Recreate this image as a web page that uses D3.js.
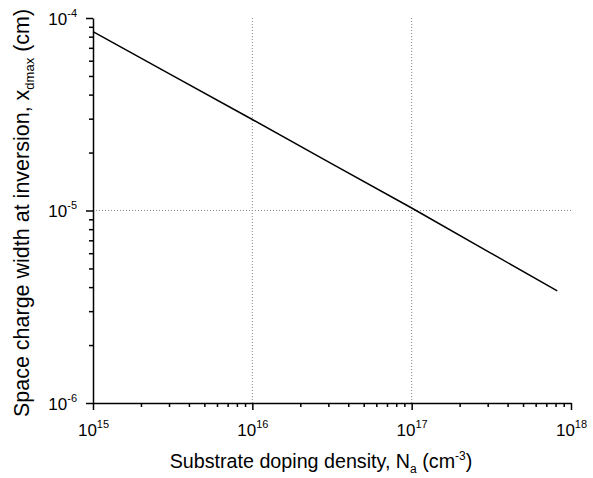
<!DOCTYPE html>
<html>
<head>
<meta charset="utf-8">
<script src="https://cdn.jsdelivr.net/npm/d3@7"></script>
<style>
  html, body { margin: 0; padding: 0; background: #fff; }
  svg { display: block; font-family: "Liberation Sans", Arial, sans-serif; }
</style>
</head>
<body>
<svg id="chart" width="593" height="478"></svg>
<script>
// Depletion width at the onset of strong inversion vs. substrate doping
const dopingNa = [1e15, 3e15, 1e16, 3e16, 1e17, 3e17, 8.2e17];               // cm^-3
const widthXd  = [8.5e-5, 5.14e-5, 2.97e-5, 1.79e-5, 1.03e-5, 6.14e-6, 3.82e-6]; // cm

const xDecades = [1e15, 1e16, 1e17, 1e18];
const xDecadeExp = ["15", "16", "17", "18"];
const yDecades = [1e-6, 1e-5, 1e-4];
const yDecadeExp = ["-6", "-5", "-4"];
const xGrid = [1e16, 1e17];
const yGrid = [1e-5];

const svg = d3.select("#chart");
const plotL = 93, plotR = 571, plotT = 18, plotB = 403;

const x = d3.scaleLog().domain([1e15, 1e18]).range([plotL, plotR]);
const y = d3.scaleLog().domain([1e-6, 1e-4]).range([plotB, plotT]);

function minorTicks(decades) {
  const out = [];
  for (let i = 0; i < decades.length - 1; i++)
    for (let m = 2; m <= 9; m++) out.push(decades[i] * m);
  return out;
}

// dotted grid lines
svg.append("g").selectAll("line").data(xGrid).join("line")
  .attr("x1", d => x(d)).attr("x2", d => x(d))
  .attr("y1", plotT).attr("y2", plotB)
  .attr("stroke", "#888").attr("stroke-width", 1).attr("stroke-dasharray", "1,2");
svg.append("g").selectAll("line").data(yGrid).join("line")
  .attr("x1", plotL).attr("x2", plotR)
  .attr("y1", d => y(d)).attr("y2", d => y(d))
  .attr("stroke", "#888").attr("stroke-width", 1).attr("stroke-dasharray", "1,2");

// minor ticks
svg.append("g").attr("transform", `translate(0,${plotB})`)
  .call(d3.axisBottom(x).tickValues(minorTicks(xDecades)).tickSize(4).tickFormat(""))
  .call(g => g.select(".domain").remove())
  .selectAll("line").attr("stroke-width", 1.5);
svg.append("g").attr("transform", `translate(${plotL},0)`)
  .call(d3.axisLeft(y).tickValues(minorTicks(yDecades)).tickSize(4).tickFormat(""))
  .call(g => g.select(".domain").remove())
  .selectAll("line").attr("stroke-width", 1.5);

// major ticks with power-of-ten labels
const xAxis = svg.append("g").attr("transform", `translate(0,${plotB})`)
  .call(d3.axisBottom(x).tickValues(xDecades).tickSize(7).tickSizeOuter(0).tickPadding(14));
xAxis.select(".domain").attr("stroke-width", 1.5);
xAxis.selectAll(".tick line").attr("stroke-width", 1.5);
xAxis.selectAll(".tick text").each(function(d, i) {
  const t = d3.select(this).text(null).attr("font-size", 17).attr("fill", "#000")
    .attr("dy", "0.71em").attr("text-anchor", "middle");
  t.append("tspan").text("10");
  t.append("tspan").attr("font-size", 11).attr("dy", -8).text(xDecadeExp[i]);
});

const yAxis = svg.append("g").attr("transform", `translate(${plotL},0)`)
  .call(d3.axisLeft(y).tickValues(yDecades).tickSize(7).tickSizeOuter(0).tickPadding(9));
yAxis.select(".domain").attr("stroke-width", 1.5);
yAxis.selectAll(".tick line").attr("stroke-width", 1.5);
yAxis.selectAll(".tick text").each(function(d, i) {
  const t = d3.select(this).text(null).attr("font-size", 17).attr("fill", "#000")
    .attr("dy", "0.36em").attr("text-anchor", "end");
  t.append("tspan").text("10");
  t.append("tspan").attr("font-size", 11).attr("dy", -8).text(yDecadeExp[i]);
});

// curve
svg.append("path")
  .datum(dopingNa.map((n, i) => [n, widthXd[i]]))
  .attr("fill", "none").attr("stroke", "#000").attr("stroke-width", 1.5)
  .attr("d", d3.line().x(d => x(d[0])).y(d => y(d[1])));

// axis titles
const xt = svg.append("text").attr("x", 321).attr("y", 468)
  .attr("text-anchor", "middle").attr("font-size", 19.7).attr("fill", "#000");
xt.append("tspan").text("Substrate doping density, N");
xt.append("tspan").attr("font-size", 12).attr("dy", 5).text("a");
xt.append("tspan").attr("dy", -5).text(" (cm");
xt.append("tspan").attr("font-size", 12).attr("dy", -8).text("-3");
xt.append("tspan").attr("dy", 8).text(")");

const yt = svg.append("text").attr("transform", "translate(29,213) rotate(-90)")
  .attr("text-anchor", "middle").attr("font-size", 21.5).attr("fill", "#000");
yt.append("tspan").text("Space charge width at inversion, x");
yt.append("tspan").attr("font-size", 13).attr("dy", 5).text("dmax");
yt.append("tspan").attr("dy", -5).text(" (cm)");
</script>
</body>
</html>
